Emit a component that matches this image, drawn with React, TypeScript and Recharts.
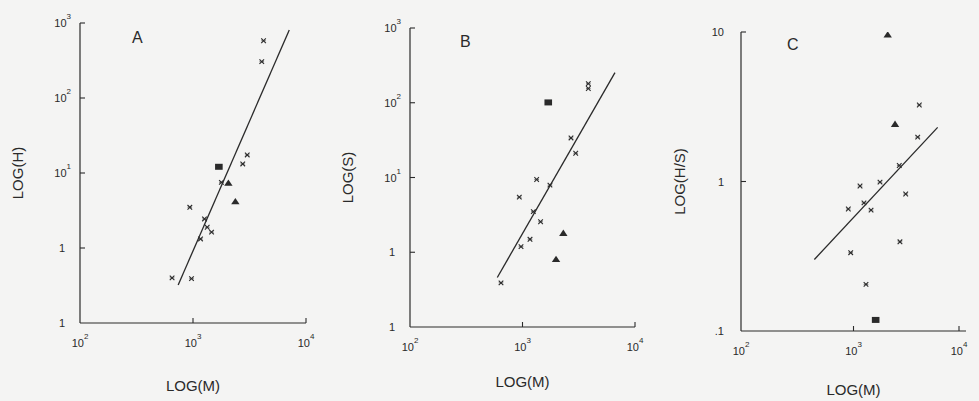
import React from 'react';
import { ScatterChart, Scatter, XAxis, YAxis } from 'recharts';

// ---------- tick labels ----------
const xTicks = [100, 1000, 10000];
const xTickBase = ['10', '10', '10'];
const xTickExp = ['2', '3', '4'];

const yTicksAB = [0.1, 1, 10, 100, 1000];
const yTickBaseAB = ['1', '1', '10', '10', '10'];
const yTickExpAB = ['', '', '1', '2', '3'];

const yTicksC = [0.1, 1, 10];
const yTickBaseC = ['.1', '1', '10'];
const yTickExpC = ['', '', ''];

// ---------- Panel A : LOG(H) vs LOG(M) ----------
const aCrossM = [4210, 4060, 3020, 2755, 1783, 937, 1264, 1336, 1460, 1166, 653, 970];
const aCrossH = [580, 305, 17.4, 13.2, 7.5, 3.49, 2.44, 1.89, 1.63, 1.32, 0.4, 0.39];
const aTriM = [2056, 2371];
const aTriH = [7.3, 4.14];
const aSqM = [1694];
const aSqH = [12.1];
const aFitM = [739, 7110];
const aFitH = [0.321, 807];

// ---------- Panel B : LOG(S) vs LOG(M) ----------
const bCrossM = [3846, 3846, 2698, 2970, 1336, 1754, 937, 1248, 1448, 1166, 970, 644];
const bCrossS = [180, 155, 33.8, 21.1, 9.4, 7.9, 5.46, 3.49, 2.56, 1.49, 1.19, 0.39];
const bTriM = [2306, 1986];
const bTriS = [1.79, 0.8];
const bSqM = [1694];
const bSqS = [101];
const bFitM = [597, 6637];
const bFitS = [0.46, 253];

// ---------- Panel C : LOG(H/S) vs LOG(M) ----------
const cCrossM = [3846, 3720, 2552, 1143, 1721, 2910, 1239, 899, 1432, 2588, 944, 1291];
const cCrossHS = [3.25, 1.98, 1.28, 0.933, 0.99, 0.825, 0.72, 0.655, 0.644, 0.395, 0.334, 0.205];
const cTriM = [2014, 2340];
const cTriHS = [9.55, 2.41];
const cSqM = [1574];
const cSqHS = [0.1186];
const cFitM = [449, 5598];
const cFitHS = [0.301, 2.3];

const FONT = '"Liberation Sans", Arial, Helvetica, sans-serif';
const INK = '#2a2a2a';
const BG = '#f4f4f3';
const TICK_MARGIN = 8;

const pts = (xs: number[], ys: number[]) => xs.map((x, i) => ({ x, y: ys[i] }));

const CrossShape = (p: any) => {
  const { cx, cy } = p;
  const s = 2.3;
  return (
    <g stroke={INK} strokeWidth={1.1}>
      <line x1={cx - s} y1={cy - s} x2={cx + s} y2={cy + s} />
      <line x1={cx - s} y1={cy + s} x2={cx + s} y2={cy - s} />
      <line x1={cx - s} y1={cy} x2={cx + s} y2={cy} strokeWidth={0.6} />
    </g>
  );
};

const TriShape = (p: any) => {
  const { cx, cy } = p;
  return <path d={`M${cx},${cy - 3.8} L${cx + 4.2},${cy + 2.6} L${cx - 4.2},${cy + 2.6} Z`} fill={INK} />;
};

const SqShape = (p: any) => {
  const { cx, cy } = p;
  return <rect x={cx - 3.8} y={cy - 3} width={7.6} height={6} fill={INK} />;
};

const NoShape = () => <g />;

const XTick = (props: any) => {
  const { x, y, payload } = props;
  const i = xTicks.indexOf(payload.value);
  const axisY = y - TICK_MARGIN;
  const isEdge = i === 0;
  return (
    <g>
      {!isEdge && <line x1={x} x2={x} y1={axisY} y2={axisY - 5} stroke={INK} strokeWidth={1.1} />}
      <text x={x} y={axisY + 24} textAnchor="middle" fontSize={11} fill={INK} fontFamily={FONT}>
        {xTickBase[i]}
        <tspan dy={-8} fontSize={8}>{xTickExp[i]}</tspan>
      </text>
    </g>
  );
};

const makeYTick = (ticks: number[], base: string[], exp: string[], gapExp: number, gapPlain: number) => (props: any) => {
  const { x, y, payload } = props;
  const i = ticks.indexOf(payload.value);
  const axisX = x + TICK_MARGIN;
  const isEdge = i === 0;
  const hasExp = exp[i] !== '';
  return (
    <g>
      {!isEdge && <line x1={axisX} x2={axisX + 5} y1={y} y2={y} stroke={INK} strokeWidth={1.1} />}
      <text x={axisX - (hasExp ? gapExp : gapPlain)} y={y + 4} textAnchor="end" fontSize={11} fill={INK} fontFamily={FONT}>
        {base[i]}
        {hasExp && <tspan dy={-8} fontSize={8}>{exp[i]}</tspan>}
      </text>
    </g>
  );
};

const YTickAB = makeYTick(yTicksAB, yTickBaseAB, yTickExpAB, 9, 15);
const YTickC = makeYTick(yTicksC, yTickBaseC, yTickExpC, 16, 17);

type PanelProps = {
  left: number;
  width: number;
  top: number;
  right: number;
  plotLeft: number;
  plotBottom: number;
  yTicks: number[];
  yDomain: [number, number];
  YTick: any;
  yTitle: string;
  yTitleOffset: number;
  xTitleOffset: number;
  cross: { x: number; y: number }[];
  tri: { x: number; y: number }[];
  sq: { x: number; y: number }[];
  fit: { x: number; y: number }[];
  letter: string;
  letterX: number;
  letterY: number;
};

const Panel = (p: PanelProps) => (
  <div style={{ position: 'absolute', left: p.left, top: 0, width: p.width, height: 401 }}>
    <ScatterChart
      width={p.width}
      height={401}
      margin={{ top: p.top, right: p.right, bottom: 0, left: 0 }}
    >
      <XAxis
        type="number"
        dataKey="x"
        scale="log"
        domain={[100, 10000]}
        allowDataOverflow
        ticks={xTicks}
        tick={<XTick />}
        tickSize={0}
        tickMargin={TICK_MARGIN}
        tickLine={false}
        axisLine={{ stroke: INK, strokeWidth: 1.2 }}
        height={401 - p.plotBottom}
        label={{
          value: 'LOG(M)',
          position: 'insideBottom',
          offset: p.xTitleOffset,
          style: { fontSize: 15, fill: INK, fontFamily: FONT },
        }}
      />
      <YAxis
        type="number"
        dataKey="y"
        scale="log"
        domain={p.yDomain}
        allowDataOverflow
        ticks={p.yTicks}
        tick={<p.YTick />}
        tickSize={0}
        tickMargin={TICK_MARGIN}
        tickLine={false}
        axisLine={{ stroke: INK, strokeWidth: 1.2 }}
        width={p.plotLeft}
        label={{
          value: p.yTitle,
          angle: -90,
          position: 'insideLeft',
          offset: p.yTitleOffset,
          style: { fontSize: 15, fill: INK, fontFamily: FONT, textAnchor: 'middle' },
        }}
      />
      <Scatter data={p.fit} line={{ stroke: INK, strokeWidth: 1.3 }} shape={NoShape} isAnimationActive={false} />
      <Scatter data={p.cross} shape={CrossShape} isAnimationActive={false} />
      <Scatter data={p.tri} shape={TriShape} isAnimationActive={false} />
      <Scatter data={p.sq} shape={SqShape} isAnimationActive={false} />
    </ScatterChart>
    <div
      style={{
        position: 'absolute',
        left: p.letterX - p.left - 6,
        top: p.letterY - 9,
        fontSize: 16,
        lineHeight: '18px',
        fontFamily: FONT,
        color: INK,
      }}
    >
      {p.letter}
    </div>
  </div>
);

export default function App() {
  return (
    <div
      style={{
        position: 'absolute',
        left: 0,
        top: 0,
        width: 979,
        height: 401,
        background: BG,
        overflow: 'hidden',
      }}
    >
      <Panel
        left={0}
        width={330}
        top={23}
        right={24}
        plotLeft={80}
        plotBottom={323}
        yTicks={yTicksAB}
        yDomain={[0.1, 1000]}
        YTick={YTickAB}
        yTitle="LOG(H)"
        yTitleOffset={18}
        xTitleOffset={10}
        cross={pts(aCrossM, aCrossH)}
        tri={pts(aTriM, aTriH)}
        sq={pts(aSqM, aSqH)}
        fit={pts(aFitM, aFitH)}
        letter="A"
        letterX={138}
        letterY={38}
      />
      <Panel
        left={330}
        width={330}
        top={28}
        right={25}
        plotLeft={80}
        plotBottom={327}
        yTicks={yTicksAB}
        yDomain={[0.1, 1000]}
        YTick={YTickAB}
        yTitle="LOG(S)"
        yTitleOffset={18}
        xTitleOffset={14}
        cross={pts(bCrossM, bCrossS)}
        tri={pts(bTriM, bTriS)}
        sq={pts(bSqM, bSqS)}
        fit={pts(bFitM, bFitS)}
        letter="B"
        letterX={466}
        letterY={42}
      />
      <Panel
        left={660}
        width={319}
        top={32}
        right={13}
        plotLeft={81}
        plotBottom={331}
        yTicks={yTicksC}
        yDomain={[0.1, 10]}
        YTick={YTickC}
        yTitle="LOG(H/S)"
        yTitleOffset={20}
        xTitleOffset={6}
        cross={pts(cCrossM, cCrossHS)}
        tri={pts(cTriM, cTriHS)}
        sq={pts(cSqM, cSqHS)}
        fit={pts(cFitM, cFitHS)}
        letter="C"
        letterX={793}
        letterY={45}
      />
    </div>
  );
}
